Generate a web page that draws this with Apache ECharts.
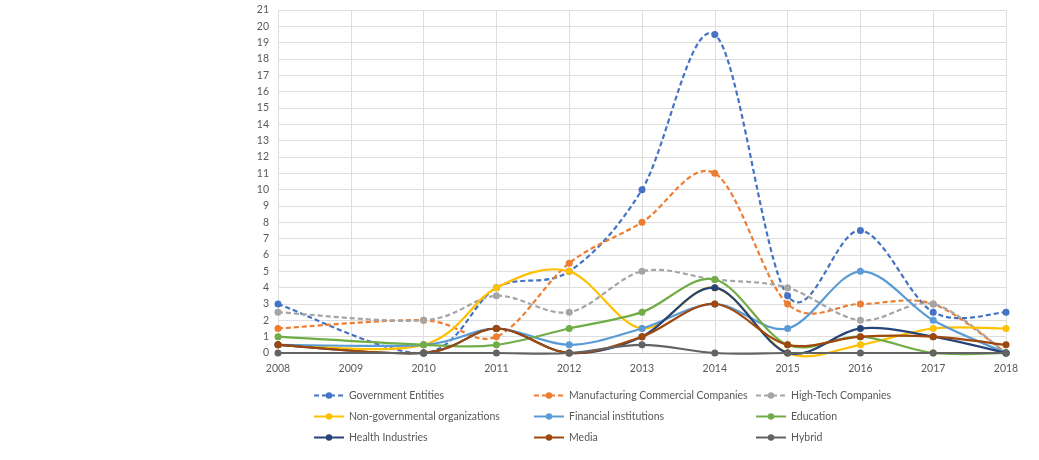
<!DOCTYPE html>
<html>
<head>
<meta charset="utf-8">
<script src="https://cdn.jsdelivr.net/npm/echarts@6/dist/echarts.min.js"></script>
<style>
  html, body { margin: 0; padding: 0; background: #fff; }
  #chart { width: 1039px; height: 460px; }
</style>
</head>
<body>
<div id="chart"></div>
<script>
// Years with recorded values (no entries for 2009)
const years = [2008, 2010, 2011, 2012, 2013, 2014, 2015, 2016, 2017, 2018];

const government    = [3,   0,   4,   5,   10,  19.5, 3.5, 7.5, 2.5, 2.5];
const manufacturing = [1.5, 2,   1,   5.5, 8,   11,   3,   3,   3,   0];
const highTech      = [2.5, 2,   3.5, 2.5, 5,   4.5,  4,   2,   3,   0];
const ngo           = [0.5, 0.5, 4,   5,   1.5, 4,    0,   0.5, 1.5, 1.5];
const financial     = [0.5, 0.5, 1.5, 0.5, 1.5, 3,    1.5, 5,   2,   0];
const education     = [1,   0.5, 0.5, 1.5, 2.5, 4.5,  0.5, 1,   0,   0];
const health        = [0.5, 0,   1.5, 0,   1,   4,    0,   1.5, 1,   0];
const media         = [0.5, 0,   1.5, 0,   1,   3,    0.5, 1,   1,   0.5];
const hybrid        = [0,   0,   0,   0,   0.5, 0,    0,   0,   0,   0];

const seriesDefs = [
  { name: 'Government Entities',                values: government,    color: '#4472C4', dashed: true },
  { name: 'Manufacturing Commercial Companies', values: manufacturing, color: '#ED7D31', dashed: true },
  { name: 'High-Tech Companies',                values: highTech,      color: '#A5A5A5', dashed: true },
  { name: 'Non-governmental organizations',     values: ngo,           color: '#FFC000', dashed: false },
  { name: 'Financial institutions',             values: financial,     color: '#5B9BD5', dashed: false },
  { name: 'Education',                          values: education,     color: '#70AD47', dashed: false },
  { name: 'Health Industries',                  values: health,        color: '#264478', dashed: false },
  { name: 'Media',                              values: media,         color: '#9E480E', dashed: false },
  { name: 'Hybrid',                             values: hybrid,        color: '#636363', dashed: false }
];

const FONT = 'Lato, "Open Sans", sans-serif';
const TEXT = '#595959';
const LINE_W = 2.2;
const DASH = [5, 3];

// legend grid: three columns, three rows
const legendCols = [313, 533, 755];
const legendRows = [390, 411, 432];

const legends = seriesDefs.map((s, i) => ({
  data: [s.name],
  left: legendCols[i % 3],
  top: legendRows[Math.floor(i / 3)],
  padding: 0,
  orient: 'horizontal',
  itemWidth: 30,
  itemHeight: 8,
  itemGap: 6,
  lineStyle: { opacity: 1 },
  textStyle: { color: TEXT, fontFamily: FONT, fontSize: 10.5 },
  selectedMode: false
}));

// Smooth curve through the points in pixel space (cardinal spline, 1/6 tangents)
function smoothPath(pts) {
  let d = 'M' + pts[0][0] + ' ' + pts[0][1];
  for (let i = 0; i < pts.length - 1; i++) {
    const p0 = pts[i - 1] || pts[i];
    const p1 = pts[i];
    const p2 = pts[i + 1];
    const p3 = pts[i + 2] || pts[i + 1];
    const c1x = p1[0] + (p2[0] - p0[0]) / 6;
    const c1y = p1[1] + (p2[1] - p0[1]) / 6;
    const c2x = p2[0] - (p3[0] - p1[0]) / 6;
    const c2y = p2[1] - (p3[1] - p1[1]) / 6;
    d += ' C' + c1x + ' ' + c1y + ' ' + c2x + ' ' + c2y + ' ' + p2[0] + ' ' + p2[1];
  }
  return d;
}

const series = [];

// marker series (also feed the legend)
seriesDefs.forEach((s, k) => {
  series.push({
    name: s.name,
    type: 'line',
    data: years.map((y, i) => [y, s.values[i]]),
    symbol: 'circle',
    symbolSize: 7,
    showSymbol: true,
    z: 10 + k * 2 + 1,
    lineStyle: { color: s.color, width: LINE_W, type: s.dashed ? DASH : 'solid', opacity: 0 },
    itemStyle: { color: s.color },
    emphasis: { disabled: true },
    silent: true
  });
});

// curve series, drawn through the axes' coordinate mapping
seriesDefs.forEach((s, k) => {
  series.push({
    name: s.name,
    type: 'custom',
    data: years.map((y, i) => [y, s.values[i]]),
    encode: { x: 0, y: 1 },
    z: 10 + k * 2,
    clip: false,
    silent: true,
    renderItem: function (params, api) {
      if (params.dataIndex !== 0) return null;
      const pts = years.map((y, i) => api.coord([y, s.values[i]]));
      return {
        type: 'path',
        shape: { pathData: smoothPath(pts) },
        style: {
          fill: 'none',
          stroke: s.color,
          lineWidth: LINE_W,
          lineDash: s.dashed ? DASH : null
        }
      };
    }
  });
});

const chart = echarts.init(document.getElementById('chart'), null, { renderer: 'canvas' });

chart.setOption({
  animation: false,
  backgroundColor: '#fff',
  grid: { left: 278, right: 33, top: 10, bottom: 107, containLabel: false },
  legend: legends,
  xAxis: {
    type: 'value',
    min: 2008,
    max: 2018,
    interval: 1,
    axisLine: { show: true, lineStyle: { color: '#BFBFBF', width: 1 } },
    axisTick: { show: false },
    axisLabel: {
      color: TEXT, fontFamily: FONT, fontSize: 10.5, margin: 10,
      formatter: v => String(v)
    },
    splitLine: { show: true, lineStyle: { color: '#DEDEDE', width: 1 } }
  },
  yAxis: {
    type: 'value',
    min: 0,
    max: 21,
    interval: 1,
    axisLine: { show: false },
    axisTick: { show: false },
    axisLabel: { color: TEXT, fontFamily: FONT, fontSize: 10.5, margin: 9 },
    splitLine: { show: true, lineStyle: { color: '#DEDEDE', width: 1 } }
  },
  series: series
});
</script>
</body>
</html>
